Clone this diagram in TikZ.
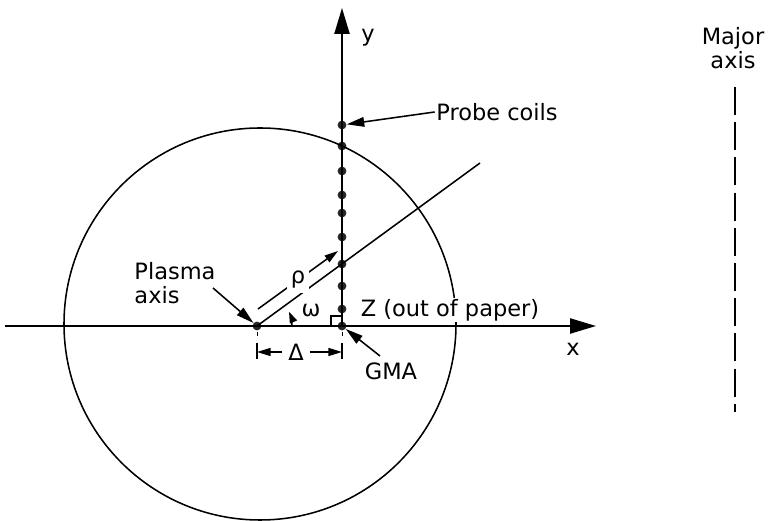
\documentclass[tikz,border=0pt]{standalone}
\usepackage{fontspec}
\setmainfont{DejaVu Sans}
\usetikzlibrary{arrows.meta,calc}
\tikzset{
  coil/.style={circle, fill=black!85, inner sep=0pt, minimum size=2.2mm},
  axisln/.style={line width=1.2pt, -{Triangle[length=6.5mm,width=3.8mm]}},
  ln/.style={line width=1.1pt},
  ptr/.style={line width=1.1pt, -{Triangle[length=4.4mm,width=2.4mm]}},
  dim/.style={line width=1.1pt, -{Triangle[length=3.4mm,width=2mm]}},
  lab/.style={font=\fontsize{16}{17}\selectfont, inner sep=1pt},
  majax/.style={line width=1.2pt, dash pattern=on 7mm off 1.8mm},
}

\begin{document}
\begin{tikzpicture}[x=0.25mm,y=-0.25mm]
  \useasboundingbox (0,0) rectangle (770,521);
  \node[coil] (pa) at (257,326) {};
  \node[coil] (gma) at (342,326) {};
  \node[coil] (rc) at (342,264) {};
  \foreach \yy [count=\i] in {125,146,171,195,213,237,286,309}
    \node[coil] (c\i) at (342,\yy) {};
  \coordinate (xtail) at (5,326);
  \coordinate (xtip) at (596,326);
  \coordinate (ytip) at (342,8);
  \coordinate (rayend) at (480,163);
  \draw[ln] (260,324) circle[radius=49mm];
  \draw[axisln] (xtail) -- (xtip);
  \draw[axisln] (gma.center) -- (ytip);
  \draw[ln] (pa.center) -- (rayend);
  \draw[ln] ($(gma)+(-11,-10)$) rectangle (gma.center);
  \draw[ln,-{Triangle[length=2.8mm,width=1.9mm]}] ($(pa)+(35,0)$)
    arc[start angle=0, end angle=24, radius=8.75mm];
  \node[lab] (om) at (311,311) {ω};
  \coordinate (r1) at (258,309);
  \coordinate (r2) at (338,251);
  \draw[dim] (r1) -- node[lab, fill=white, inner sep=3pt]{ρ} (r2);
  % Delta
  \draw[line width=0.6pt] ($(pa)+(0,6)$) -- ($(pa)+(0,10)$);
  \draw[line width=0.6pt] ($(gma)+(0,6)$) -- ($(gma)+(0,10)$);
  \draw[ln] ($(pa)+(0,17)$) -- ($(pa)+(0,33)$);
  \draw[ln] ($(gma)+(0,17)$) -- ($(gma)+(0,33)$);
  \node[lab, inner sep=4pt] (delta) at (296,352) {Δ};
  \coordinate (dl) at (257,352);
  \coordinate (dr) at (342,352);
  \draw[dim] (delta) -- (dl);
  \draw[dim] (delta) -- (dr);
  % labels
  \node[lab] (ylab) at (368,38) {y};
  \node[lab] (xlab) at (573,349) {x};
  \node[lab] (probe) at (497,112) {Probe coils};
  \draw[ptr] (probe.west) -- (c1);
  \node[lab, fill=white] (zlab) at (450,310) {Z (out of paper)};
  \node[lab] (gmalab) at (391,371) {GMA};
  \coordinate (gmatail) at (380,356);
  \draw[ptr] (gmatail) -- (gma);
  \node[lab, align=left] (plab) at (175,283) {Plasma\\axis};
  \coordinate (patail) at (213,288);
  \draw[ptr] (patail) -- (pa);
  \node[lab, align=center] (major) at (733,48) {Major\\axis};
  \coordinate (majtop) at (735,87);
  \coordinate (majend) at (735,412);
  \draw[majax] (majtop) -- (majend);
\end{tikzpicture}
\end{document}
